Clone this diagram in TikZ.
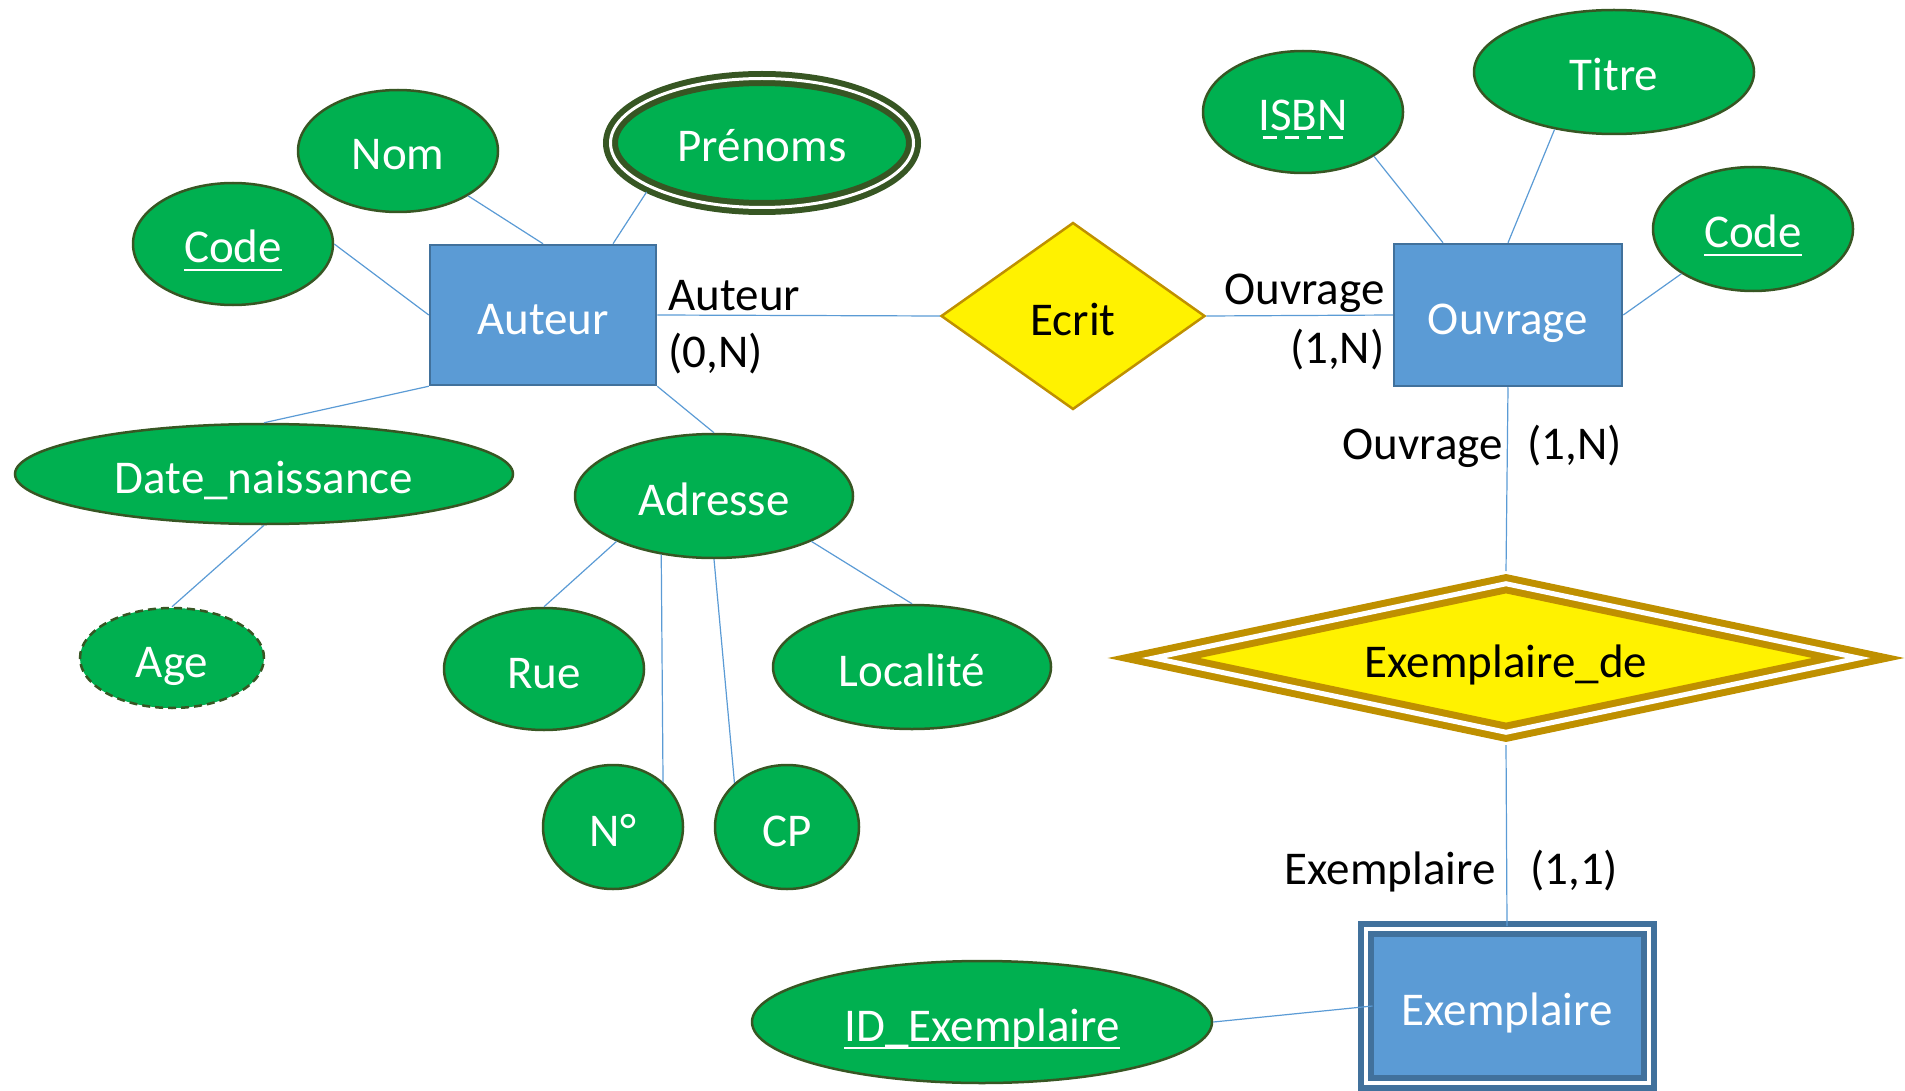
\documentclass[tikz,border=0pt]{standalone}
\usepackage{fontspec}
\setmainfont{Carlito}
\usetikzlibrary{shapes.geometric}
\definecolor{attrgreen}{HTML}{00B050}
\definecolor{attrborder}{HTML}{375623}
\definecolor{entblue}{HTML}{5B9BD5}
\definecolor{entborder}{HTML}{41719C}
\definecolor{relgold}{HTML}{BF9000}
\definecolor{linkblue}{HTML}{5B9BD5}
\newsavebox{\keybox}
% underlined key, solid or dashed
\newcommand{\ulkey}[1]{\sbox{\keybox}{#1}\rlap{\raisebox{-8pt}{\vrule width \wd\keybox height 2.5pt depth 0pt}}\usebox{\keybox}}
\newcommand{\dashkey}[1]{\sbox{\keybox}{#1}\rlap{\raisebox{-8pt}{\hbox to \wd\keybox{\xleaders\hbox to 22pt{\hss\vrule width 14pt height 2.5pt depth 0pt\hss}\hfill}}}\usebox{\keybox}}
\begin{document}
\begin{tikzpicture}[x=1pt,y=-1pt,font=\fontsize{47}{56}\selectfont,
	attr/.style={ellipse,draw=attrborder,line width=2.5pt,fill=attrgreen,text=white,inner sep=0pt,text height=44pt,text depth=6pt},
	entity/.style={rectangle,draw=entborder,line width=2.5pt,fill=entblue,text=white,text height=44pt,text depth=6pt},
	rel/.style={diamond,draw=relgold,line width=2.5pt,fill=yellow,inner sep=0pt,text height=44pt,text depth=6pt},
	link/.style={draw=linkblue,line width=1.2pt},
	card/.style={inner sep=0pt}]
	\useasboundingbox (0,0) rectangle (1905,1091);

	\node (auteur)[entity,minimum width=226pt,minimum height=140pt] at (543,315){Auteur};
	\node (ouvrage)[entity,minimum width=228pt,minimum height=142pt] at (1508,315){Ouvrage};
	\node (exemplaire)[entity,line width=6pt,double=white,double distance=4pt,minimum width=283pt,minimum height=154pt] at (1507,1006){Exemplaire};

	\node (ecrit)[rel,minimum width=264pt,minimum height=187pt] at (1073,316){Ecrit};
	\node (exde)[rel,line width=7pt,double=white,double distance=5pt,aspect=4.5,outer sep=9pt,minimum width=712pt,minimum height=156pt] at (1506,658){Exemplaire\_de};

	\node (nom)[attr,minimum width=200pt,minimum height=122pt] at (398,151){Nom};
	\node (codeA)[attr,minimum width=200pt,minimum height=122pt] at (233,244){\ulkey{Code}};
	\node (prenoms)[attr,line width=6pt,double=white,double distance=3pt,outer sep=7pt,minimum width=303pt,minimum height=129pt] at (762,143){Prénoms};
	\node (date)[attr,minimum width=498pt,minimum height=100pt] at (264,474){Date\_naissance};
	\node (age)[attr,dash pattern=on 8pt off 5pt,minimum width=184pt,minimum height=100pt] at (172,658){Age};
	\node (adresse)[attr,minimum width=278pt,minimum height=124pt] at (714,496){Adresse};
	\node (rue)[attr,minimum width=200pt,minimum height=122pt] at (544,669){Rue};
	\node (localite)[attr,minimum width=278pt,minimum height=124pt] at (912,667){Localité};
	\node (num)[attr,minimum width=140pt,minimum height=124pt] at (613,827){N°};
	\node (cp)[attr,minimum width=144pt,minimum height=124pt] at (787,827){CP};
	\node (isbn)[attr,minimum width=200pt,minimum height=122pt] at (1303,112){\dashkey{ISBN}};
	\node (titre)[attr,minimum width=280pt,minimum height=124pt] at (1614,72){Titre};
	\node (codeO)[attr,minimum width=200pt,minimum height=124pt] at (1753,229){\ulkey{Code}};
	\node (idex)[attr,minimum width=460pt,minimum height=122pt] at (982,1022){\ulkey{ID\_Exemplaire}};

	\node (auteurrole)[card,anchor=base west] at ([shift={(11,-5)}]auteur.east){Auteur};
	\node (auteurcard)[card,anchor=base west] at ([shift={(11,52)}]auteur.east){(0,N)};
	\node (ouvragerole)[card,anchor=base east] at ([shift={(-8,-10)}]ouvrage.west){Ouvrage};
	\node (ouvragecard)[card,anchor=base east] at ([shift={(-8,48)}]ouvrage.west){(1,N)};
	\node (ouvragerole2)[card,anchor=base east] at ([shift={(-5,72)}]ouvrage.south){Ouvrage};
	\node (ouvragecard2)[card,anchor=base west] at ([shift={(19,72)}]ouvrage.south){(1,N)};
	\node (exemplairerole)[card,anchor=base east] at ([shift={(-11,-42)}]exemplaire.north){Exemplaire};
	\node (exemplairecard)[card,anchor=base west] at ([shift={(23,-42)}]exemplaire.north){(1,1)};

	\draw[link] (nom) -- (auteur.north);
	\draw[link] (prenoms.203) -- ([xshift=70pt]auteur.north);
	\draw[link] (codeA.east) -- (auteur.west);
	\draw[link] (date.north) -- (auteur.south west);
	\draw[link] (age.north) -- (date.south);
	\draw[link] (auteur.south east) -- (adresse.north);
	\draw[link] (adresse.205) -- (rue.north);
	\draw[link] (adresse.228) -- (num.42);
	\draw[link] (adresse.south) -- (cp.140);
	\draw[link] (adresse.335) -- (localite.north);
	\draw[link] (auteur.east) -- (ecrit.west);
	\draw[link] (ecrit.east) -- (ouvrage.west);
	\draw[link] (isbn.328) -- ([xshift=-65pt]ouvrage.north);
	\draw[link] (titre.224) -- (ouvrage.north);
	\draw[link] (codeO.212) -- (ouvrage.east);
	\draw[link] (ouvrage.south) -- (exde.north);
	\draw[link] (exde.south) -- (exemplaire.north);
	\draw[link] (idex.east) -- ([xshift=10pt]exemplaire.west);
\end{tikzpicture}
\end{document}
